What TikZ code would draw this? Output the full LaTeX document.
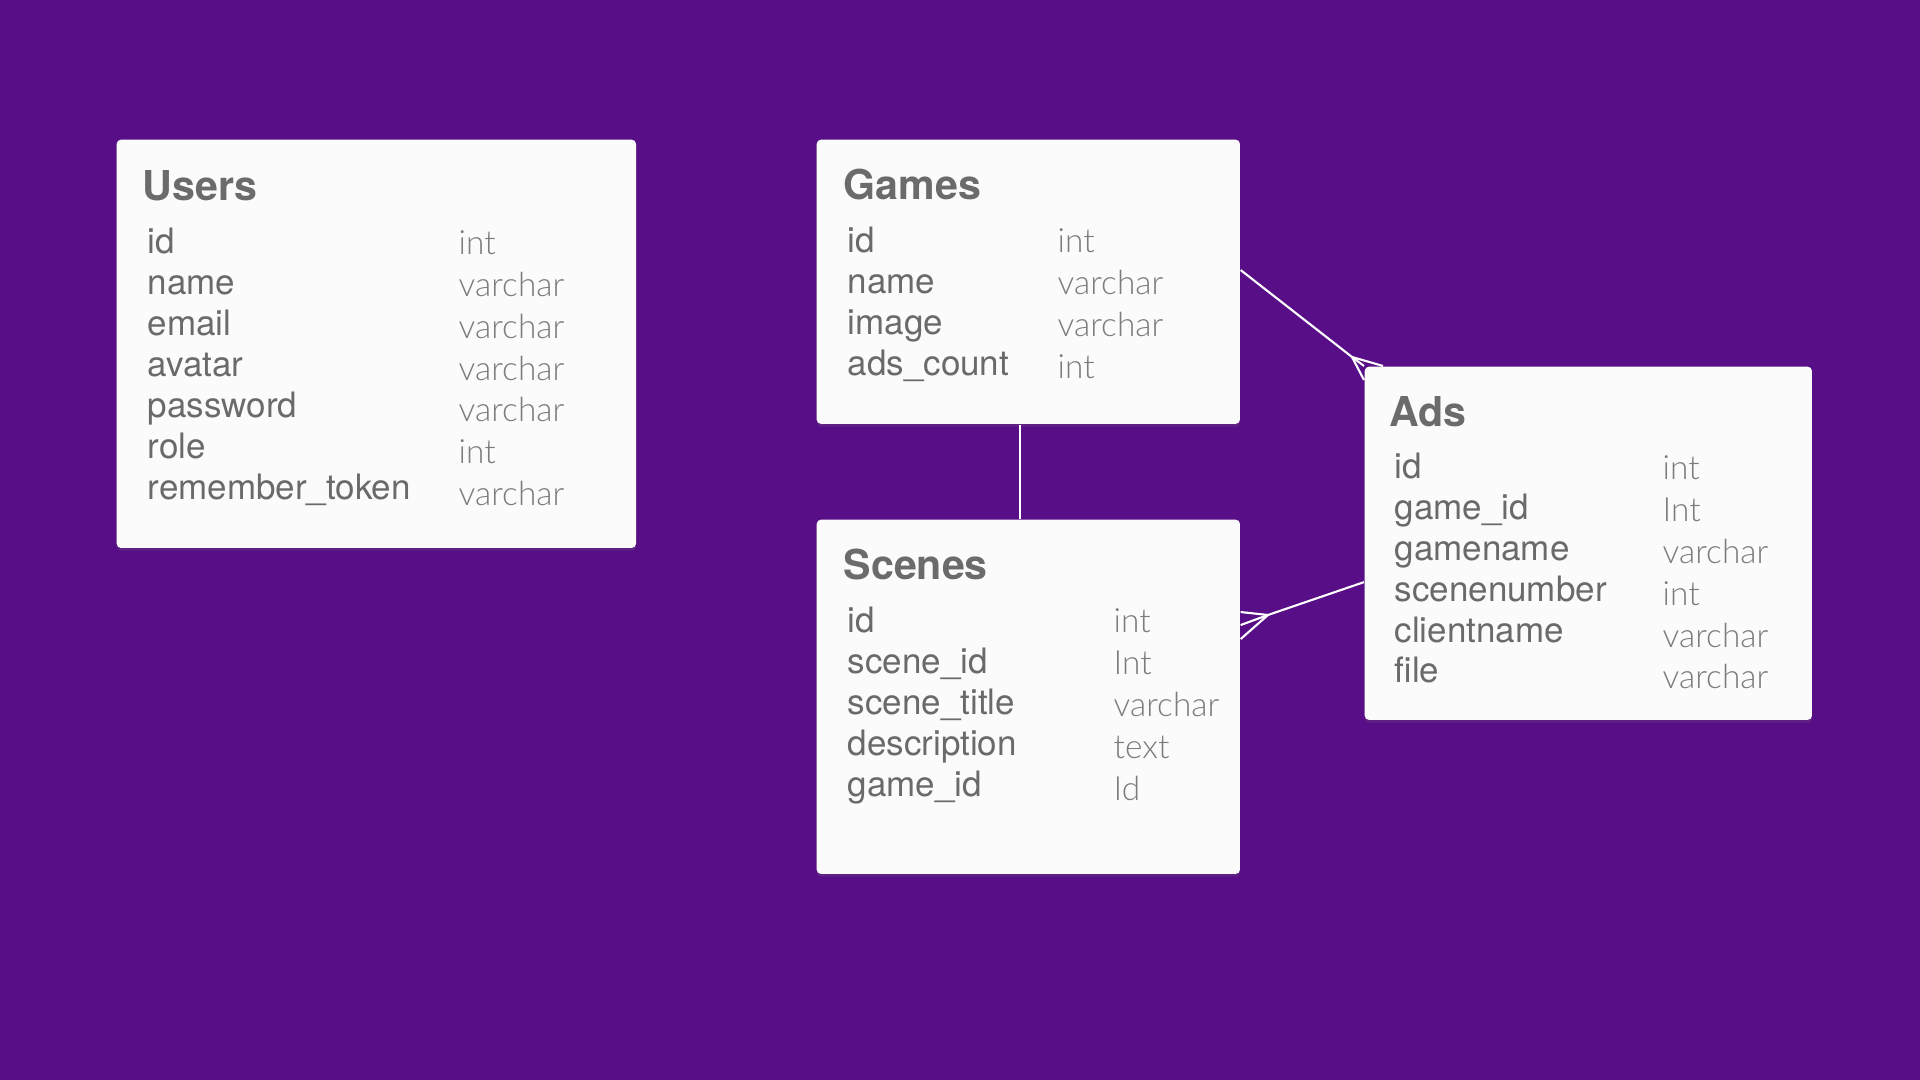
\documentclass[tikz,border=0pt]{standalone}
\usepackage{fontspec}
\setmainfont{TeX Gyre Heros}
\IfFontExistsTF{Lato Light}{\newfontfamily\typefont{Lato Light}}{\newfontfamily\typefont{Lato}}
\usetikzlibrary{calc,shadows}

\definecolor{erdpurple}{HTML}{570E87}
\definecolor{cardwhite}{HTML}{FBFBFB}
\definecolor{titlegray}{HTML}{6B6B6B}
\definecolor{fieldgray}{HTML}{6A6A6A}
\definecolor{typegray}{HTML}{7C7C7C}

\tikzset{
  card/.style={fill=cardwhite, rounded corners=1.2pt, anchor=north west, inner sep=0pt,
    drop shadow={opacity=0.18, shadow xshift=0pt, shadow yshift=-0.8pt}},
  cardtitle/.style={anchor=base west, inner sep=0pt, text=titlegray,
    font=\fontsize{11.7}{14}\selectfont\bfseries},
  field/.style={anchor=base west, inner sep=0pt, text=fieldgray,
    font=\fontsize{9.95}{11.8}\selectfont},
  ftype/.style={anchor=base west, inner sep=0pt, text=typegray,
    font=\typefont\fontsize{9.5}{11.3}\selectfont},
  rel/.style={draw=white, line width=0.6pt},
}

\begin{document}
\begin{tikzpicture}[x=0.01cm,y=-0.01cm]
\fill[erdpurple](0,0) rectangle (1920,1080);
\useasboundingbox (0,0) rectangle (1920,1080);

% tables
\node[card, minimum width=5.19cm, minimum height=4.08cm] (users) at (116,139) {};
\node[card, minimum width=4.23cm, minimum height=2.84cm] (games) at (816,139) {};
\node[card, minimum width=4.23cm, minimum height=3.54cm] (scenes) at (816,519) {};
\node[card, minimum width=4.47cm, minimum height=3.53cm] (ads) at (1364,366) {};

% Users
\node[cardtitle] (users-title) at (142,201) {Users};
\foreach \f [count=\i from 0] in {id,name,email,avatar,password,role,remember\_token}
  \node[field] (users-f\i) at (147,{254+41*\i}) {\f};
\foreach \t [count=\i from 0] in {int,varchar,varchar,varchar,varchar,int,varchar}
  \node[ftype] (users-t\i) at (458,{255+41.7*\i}) {\t};

% Games
\node[cardtitle] (games-title) at (843,200) {Games};
\foreach \f [count=\i from 0] in {id,name,image,ads\_count}
  \node[field] (games-f\i) at (847,{253+41*\i}) {\f};
\foreach \t [count=\i from 0] in {int,varchar,varchar,int}
  \node[ftype] (games-t\i) at (1057,{253+41.7*\i}) {\t};

% Scenes
\node[cardtitle] (scenes-title) at (843,580) {Scenes};
\foreach \f [count=\i from 0] in {id,scene\_id,scene\_title,description,game\_id}
  \node[field] (scenes-f\i) at (847,{633+40.8*\i}) {\f};
\foreach \t [count=\i from 0] in {int,Int,varchar,text,Id}
  \node[ftype] (scenes-t\i) at (1113,{633+42*\i}) {\t};

% Ads
\node[cardtitle] (ads-title) at (1389,427) {Ads};
\foreach \f [count=\i from 0] in {id,game\_id,gamename,scenenumber,clientname,file}
  \node[field] (ads-f\i) at (1394,{479+40.8*\i}) {\f};
\foreach \t [count=\i from 0] in {int,Int,varchar,int,varchar,varchar}
  \node[ftype] (ads-t\i) at (1662,{480+41.8*\i}) {\t};

% relations
\draw[rel] ([xshift=-0.085cm]games.south) -- ([xshift=-0.085cm]scenes.north);

\coordinate (ga-foot) at (1352,357);
\draw[rel] ([yshift=-1.31cm]games.north east) -- (ga-foot);
\draw[rel] (ga-foot) -- ([xshift=0.19cm]ads.north west);
\draw[rel] (ga-foot) -- (ads.north west);
\draw[rel] (ga-foot) -- ([yshift=-0.14cm]ads.north west);

\coordinate (sa-foot) at (1268,615);
\draw[rel] ([yshift=-2.16cm]ads.north west) -- (sa-foot);
\draw[rel] (sa-foot) -- ([yshift=-0.93cm]scenes.north east);
\draw[rel] (sa-foot) -- ([yshift=-1.06cm]scenes.north east);
\draw[rel] (sa-foot) -- ([yshift=-1.20cm]scenes.north east);
\end{tikzpicture}
\end{document}
